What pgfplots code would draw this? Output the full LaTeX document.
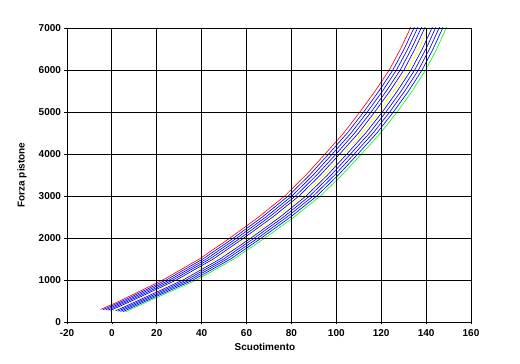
\documentclass[border=0pt]{standalone}
\usepackage{fontspec}
\setmainfont{Liberation Sans}
\usepackage{pgfplots}
\pgfplotsset{compat=1.18}
\definecolor{cred}{RGB}{255,0,0}
\definecolor{cblue}{RGB}{0,0,255}
\definecolor{cyellow}{RGB}{255,255,0}
\definecolor{cgreen}{RGB}{0,255,0}
\begin{document}
\begin{tikzpicture}
\useasboundingbox (-67pt,-42pt) rectangle (453pt,322pt);
\begin{axis}[
  at={(0pt,0pt)}, anchor=south west,
  scale only axis, width=404pt, height=294pt,
  xmin=-20, xmax=160, ymin=0, ymax=7000,
  xtick={-20,0,20,40,60,80,100,120,140,160},
  ytick={0,1000,2000,3000,4000,5000,6000,7000},
  grid=major,
  major grid style={black, line width=0.8pt},
  axis line style={black, line width=0.8pt},
  tick style={black, line width=0.6pt},
  tick align=outside, major tick length=2.5pt,
  xtick pos=bottom, ytick pos=left,
  axis on top=true,
  /pgf/number format/assume math mode=true,
  /pgf/number format/set thousands separator={},
  ticklabel style={font=\fontsize{10}{12}\selectfont\bfseries},
  xticklabel style={yshift=-1pt},
  xlabel={Scuotimento},
  ylabel={Forza pistone},
  xlabel style={font=\fontsize{10}{12}\selectfont\bfseries, at={(axis description cs:0.49,-0.085)}, anchor=center},
  ylabel style={font=\fontsize{10}{12}\selectfont\bfseries, at={(axis description cs:-0.111,0.5)}, anchor=center},
  every axis plot/.append style={line width=0.65pt, no markers},
]
% red (k=0)
\addplot[cred] coordinates {(-5,300)(3.5,500)(22.7,1000)(39.0,1500)(52.6,2000)(65.4,2500)(77.0,3000)(86.5,3500)(95.0,4000)(103.3,4500)(110.5,5000)(117.3,5500)(123.6,6000)(128.6,6500)(133.0,7000)(134.2,7150)};
% blue 1
\addplot[cblue] coordinates {(-3.9,294)(4.8,500)(24.2,1000)(40.5,1500)(54.2,2000)(67.0,2500)(78.6,3000)(88.1,3500)(96.6,4000)(104.9,4500)(112.2,5000)(119.0,5500)(125.2,6000)(130.2,6500)(134.6,7000)(135.8,7150)};
% blue 2
\addplot[cblue] coordinates {(-2.8,288)(6.1,500)(25.7,1000)(42.1,1500)(55.7,2000)(68.6,2500)(80.2,3000)(89.7,3500)(98.2,4000)(106.6,4500)(113.8,5000)(120.6,5500)(126.8,6000)(131.8,6500)(136.2,7000)(137.4,7150)};
% blue 3
\addplot[cblue] coordinates {(-1.7,282)(7.4,500)(27.2,1000)(43.6,1500)(57.3,2000)(70.1,2500)(81.8,3000)(91.3,3500)(99.9,4000)(108.2,4500)(115.5,5000)(122.3,5500)(128.5,6000)(133.4,6500)(137.8,7000)(139.0,7150)};
% blue 4
\addplot[cblue] coordinates {(-0.6,276)(8.7,500)(28.7,1000)(45.2,1500)(58.8,2000)(71.7,2500)(83.4,3000)(92.9,3500)(101.5,4000)(109.9,4500)(117.1,5000)(123.9,5500)(130.1,6000)(135.0,6500)(139.4,7000)(140.6,7150)};
% blue 6
\addplot[cblue] coordinates {(1.6,264)(11.3,500)(31.7,1000)(48.2,1500)(62.0,2000)(74.9,2500)(86.5,3000)(96.1,3500)(104.7,4000)(113.1,4500)(120.5,5000)(127.2,5500)(133.3,6000)(138.3,6500)(142.6,7000)(143.8,7150)};
% blue 7
\addplot[cblue] coordinates {(2.7,258)(12.6,500)(33.2,1000)(49.8,1500)(63.5,2000)(76.5,2500)(88.1,3000)(97.7,3500)(106.3,4000)(114.8,4500)(122.1,5000)(128.9,5500)(134.9,6000)(139.9,6500)(144.2,7000)(145.4,7150)};
% blue 8
\addplot[cblue] coordinates {(3.8,252)(13.9,500)(34.7,1000)(51.3,1500)(65.1,2000)(78.0,2500)(89.7,3000)(99.3,3500)(108.0,4000)(116.4,4500)(123.8,5000)(130.5,5500)(136.6,6000)(141.5,6500)(145.8,7000)(147.0,7150)};
% blue 9
\addplot[cblue] coordinates {(4.9,246)(15.2,500)(36.2,1000)(52.9,1500)(66.6,2000)(79.6,2500)(91.3,3000)(100.9,3500)(109.6,4000)(118.1,4500)(125.4,5000)(132.2,5500)(138.2,6000)(143.1,6500)(147.4,7000)(148.6,7150)};
% yellow (k=5)
\addplot[cyellow] coordinates {(0.5,270)(10.0,500)(30.2,1000)(46.7,1500)(60.4,2000)(73.3,2500)(85.0,3000)(94.5,3500)(103.1,4000)(111.5,4500)(118.8,5000)(125.6,5500)(131.7,6000)(136.7,6500)(141.0,7000)(142.2,7150)};
% green (k=10)
\addplot[cgreen] coordinates {(6.0,240)(16.5,500)(37.7,1000)(54.4,1500)(68.2,2000)(81.2,2500)(92.9,3000)(102.5,3500)(111.2,4000)(119.7,4500)(127.1,5000)(133.8,5500)(139.8,6000)(144.7,6500)(149.0,7000)(150.2,7150)};
\end{axis}
\end{tikzpicture}
\end{document}
